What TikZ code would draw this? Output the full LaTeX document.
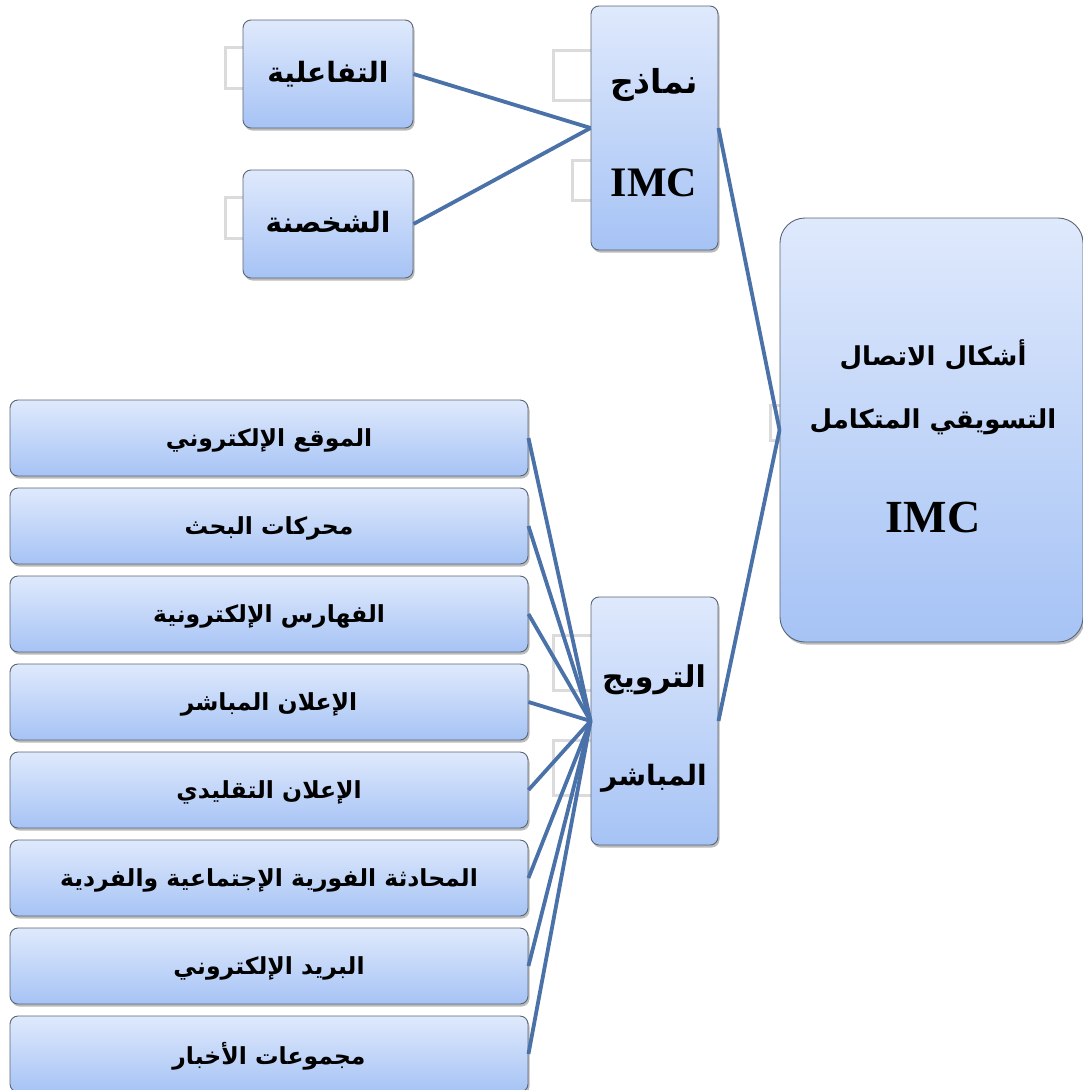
\documentclass[tikz,border=0pt]{standalone}
\usepackage{fontspec}
\setmainfont{Liberation Serif}
\newfontfamily\ar[Script=Arabic]{DejaVu Sans}
\TeXXeTstate=1
\usetikzlibrary{shadows}
\definecolor{lnc}{HTML}{4A72A8}
\definecolor{topc}{HTML}{DFE9FC}
\definecolor{botc}{HTML}{A6C3F5}
\definecolor{brd}{HTML}{5A6677}
\tikzset{
 box/.style={draw=brd, line width=0.9pt, rounded corners=8pt, top color=topc, bottom color=botc,
   drop shadow={shadow xshift=1.5pt,shadow yshift=-2.5pt,opacity=0.45,fill=black!60}, inner sep=0pt},
 ghost/.style={draw=black!14, line width=3pt, fill=white},
 conn/.style={draw=lnc, line width=3.8pt},
 artxt/.style={font=\ar\bfseries\fontsize{28}{32}\selectfont, text=black, inner sep=0pt},
 bigtxt/.style={font=\ar\bfseries\fontsize{30}{34}\selectfont, text=black, inner sep=0pt},
 maintxt/.style={font=\ar\bfseries\fontsize{26}{30}\selectfont, text=black, inner sep=0pt},
 listtxt/.style={font=\ar\bfseries\fontsize{23.5}{27}\selectfont, text=black, inner sep=0pt},
 imctxt/.style={font=\bfseries\fontsize{42}{46}\selectfont, text=black, inner sep=0pt},
}
\begin{document}
\begin{tikzpicture}[x=1pt,y=-1pt]
\useasboundingbox (0,0) rectangle (1083,1090);
\clip (0,0) rectangle (1083,1090);
% ghost boxes
\draw[ghost] (225,47) rectangle (250,88);
\draw[ghost] (225,197) rectangle (250,238);
\draw[ghost] (553,50) rectangle (600,100);
\draw[ghost] (572,160) rectangle (600,200);
\draw[ghost] (553,635) rectangle (600,690);
\draw[ghost] (553,740) rectangle (600,795);
\draw[ghost] (770,405) rectangle (790,440);
% boxes
\node[box, minimum width=170pt, minimum height=108pt] (t1) at (328,74) {};
\node[box, minimum width=170pt, minimum height=108pt] (t2) at (328,224) {};
\node[box, minimum width=127pt, minimum height=244pt] (nm) at (654.5,128) {};
\node[box, minimum width=127pt, minimum height=248pt] (tr) at (654.5,721) {};
\node[box, rounded corners=25pt, minimum width=303pt, minimum height=424pt] (mn) at (931.5,430) {};
\foreach \i in {1,...,8}{
  \node[box, minimum width=518pt, minimum height=76pt] (l\i) at (269,{438+88*(\i-1)}) {};
}
% connectors
\draw[conn] (t1.east) -- (nm.west);
\draw[conn] (t2.east) -- (nm.west);
\draw[conn] (nm.east) -- (mn.west);
\draw[conn] (tr.east) -- (mn.west);
\foreach \i in {1,...,8}{
  \draw[conn] (l\i.east) -- (tr.west);
}
% texts
\node[artxt] (x1) at (328,74) {\beginR التفاعلية\endR};
\node[artxt] (x2) at (328,222) {\beginR الشخصنة\endR};
\node[bigtxt, font=\ar\bfseries\fontsize{33}{36}\selectfont] (x3) at (654,85) {\beginR نماذج\endR};
\node[imctxt] (x4) at (654,183) {IMC};
\node[bigtxt] (x5) at (654,680) {\beginR الترويج\endR};
\node[bigtxt, font=\ar\bfseries\fontsize{28}{32}\selectfont] (x6) at (654,778) {\beginR المباشر\endR};
\node[maintxt] (x7) at (933,355) {\beginR أشكال الاتصال\endR};
\node[maintxt] (x8) at (933,422) {\beginR التسويقي المتكامل\endR};
\node[imctxt, font=\bfseries\fontsize{46}{50}\selectfont] (x9) at (933,517) {IMC};
\node[listtxt] (y1) at (269,440) {\beginR الموقع الإلكتروني\endR};
\node[listtxt] (y2) at (269,528) {\beginR محركات البحث\endR};
\node[listtxt] (y3) at (269,616) {\beginR الفهارس الإلكترونية\endR};
\node[listtxt] (y4) at (269,704) {\beginR الإعلان المباشر\endR};
\node[listtxt] (y5) at (269,792) {\beginR الإعلان التقليدي\endR};
\node[listtxt] (y6) at (269,880) {\beginR المحادثة الفورية الإجتماعية والفردية\endR};
\node[listtxt] (y7) at (269,968) {\beginR البريد الإلكتروني\endR};
\node[listtxt] (y8) at (269,1056) {\beginR مجموعات الأخبار\endR};
\end{tikzpicture}
\end{document}
